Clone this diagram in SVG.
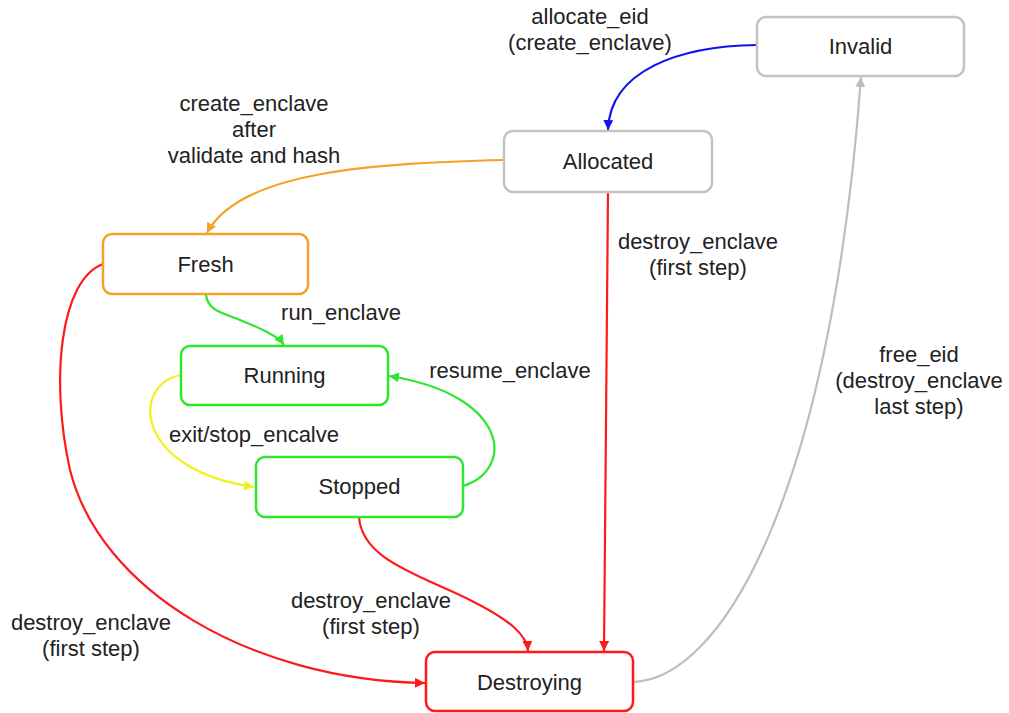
<svg xmlns="http://www.w3.org/2000/svg" width="1009" height="713" viewBox="0 0 1009 713">
  <style>
    text { font-family: "Liberation Sans", Arial, sans-serif; font-size: 22px; fill: #222; text-anchor: middle; }
    .node rect { fill: #fff; stroke-width: 2.5; }
    .edge { fill: none; stroke-width: 2.2; }
  </style>
  <defs>
    <marker id="a-blue" viewBox="0 0 10 10" refX="10" refY="5" markerWidth="10" markerHeight="10" markerUnits="userSpaceOnUse" orient="auto"><path d="M0,0 L10,5 L0,10 z" fill="#1212ee"/></marker>
    <marker id="a-orange" viewBox="0 0 10 10" refX="10" refY="5" markerWidth="10" markerHeight="10" markerUnits="userSpaceOnUse" orient="auto"><path d="M0,0 L10,5 L0,10 z" fill="#f6a12a"/></marker>
    <marker id="a-red" viewBox="0 0 10 10" refX="10" refY="5" markerWidth="10" markerHeight="10" markerUnits="userSpaceOnUse" orient="auto"><path d="M0,0 L10,5 L0,10 z" fill="#ff1a1a"/></marker>
    <marker id="a-green" viewBox="0 0 10 10" refX="10" refY="5" markerWidth="10" markerHeight="10" markerUnits="userSpaceOnUse" orient="auto"><path d="M0,0 L10,5 L0,10 z" fill="#2ee62e"/></marker>
    <marker id="a-yellow" viewBox="0 0 10 10" refX="10" refY="5" markerWidth="10" markerHeight="10" markerUnits="userSpaceOnUse" orient="auto"><path d="M0,0 L10,5 L0,10 z" fill="#f2f21a"/></marker>
    <marker id="a-gray" viewBox="0 0 10 10" refX="10" refY="5" markerWidth="10" markerHeight="10" markerUnits="userSpaceOnUse" orient="auto"><path d="M0,0 L10,5 L0,10 z" fill="#bdbdbd"/></marker>
  </defs>

  <rect width="1009" height="713" fill="#fff"/>

  <!-- transitions -->
  <g id="connectors">
    <path class="edge" stroke="#1212ee" marker-end="url(#a-blue)" d="M757,45 C680,46 610,70 608,130"/>
    <path class="edge" stroke="#f6a12a" marker-end="url(#a-orange)" d="M504,160 C380,163 240,170 207,233"/>
    <path class="edge" stroke="#ff1a1a" marker-end="url(#a-red)" d="M608,192 L604,651"/>
    <path class="edge" stroke="#bdbdbd" marker-end="url(#a-gray)" d="M633,682 C720,680 830,500 861,77"/>
    <path class="edge" stroke="#2ee62e" marker-end="url(#a-green)" d="M206,295 C208,310 220,312 240,320 C262,329 278,336 284,345"/>
    <path class="edge" stroke="#f2f21a" marker-end="url(#a-yellow)" d="M181,375 C130,385 135,470 254,487"/>
    <path class="edge" stroke="#2ee62e" marker-end="url(#a-green)" d="M463,486 C515,470 510,395 389,376"/>
    <path class="edge" stroke="#ff1a1a" marker-end="url(#a-red)" d="M359,517 C362,560 420,575 470,600 C510,620 527,635 528,651"/>
    <path class="edge" stroke="#ff1a1a" marker-end="url(#a-red)" d="M103,264 C60,280 50,380 70,470 C100,590 250,680 425,683"/>
  </g>

  <!-- transition labels -->
  <g id="labels">
    <text x="590" y="24">allocate_eid</text>
    <text x="590" y="50">(create_enclave)</text>
    <text x="254" y="111">create_enclave</text>
    <text x="254" y="137">after</text>
    <text x="254" y="163">validate and hash</text>
    <text x="698" y="249">destroy_enclave</text>
    <text x="698" y="275">(first step)</text>
    <text x="341" y="320">run_enclave</text>
    <text x="510" y="378">resume_enclave</text>
    <text x="254" y="442">exit/stop_encalve</text>
    <text x="919" y="362">free_eid</text>
    <text x="919" y="388">(destroy_enclave</text>
    <text x="919" y="414">last step)</text>
    <text x="371" y="608">destroy_enclave</text>
    <text x="371" y="634">(first step)</text>
    <text x="91" y="630">destroy_enclave</text>
    <text x="91" y="656">(first step)</text>
  </g>

  <!-- states -->
  <g id="invalid" class="node">
    <rect x="757" y="17" width="207" height="59" rx="9" stroke="#c2c2c2"/>
    <text x="860.5" y="54">Invalid</text>
  </g>
  <g id="allocated" class="node">
    <rect x="504" y="131" width="208" height="61" rx="9" stroke="#c2c2c2"/>
    <text x="608" y="169">Allocated</text>
  </g>
  <g id="fresh" class="node">
    <rect x="103" y="234" width="205" height="60" rx="9" stroke="#f6a12a"/>
    <text x="205.5" y="272">Fresh</text>
  </g>
  <g id="running" class="node">
    <rect x="181" y="346" width="207" height="59" rx="9" stroke="#2ee62e"/>
    <text x="284.5" y="383">Running</text>
  </g>
  <g id="stopped" class="node">
    <rect x="256" y="457" width="207" height="60" rx="9" stroke="#2ee62e"/>
    <text x="359.5" y="494">Stopped</text>
  </g>
  <g id="destroying" class="node">
    <rect x="426" y="652" width="207" height="59" rx="9" stroke="#ff1a1a"/>
    <text x="529.5" y="690">Destroying</text>
  </g>
</svg>
